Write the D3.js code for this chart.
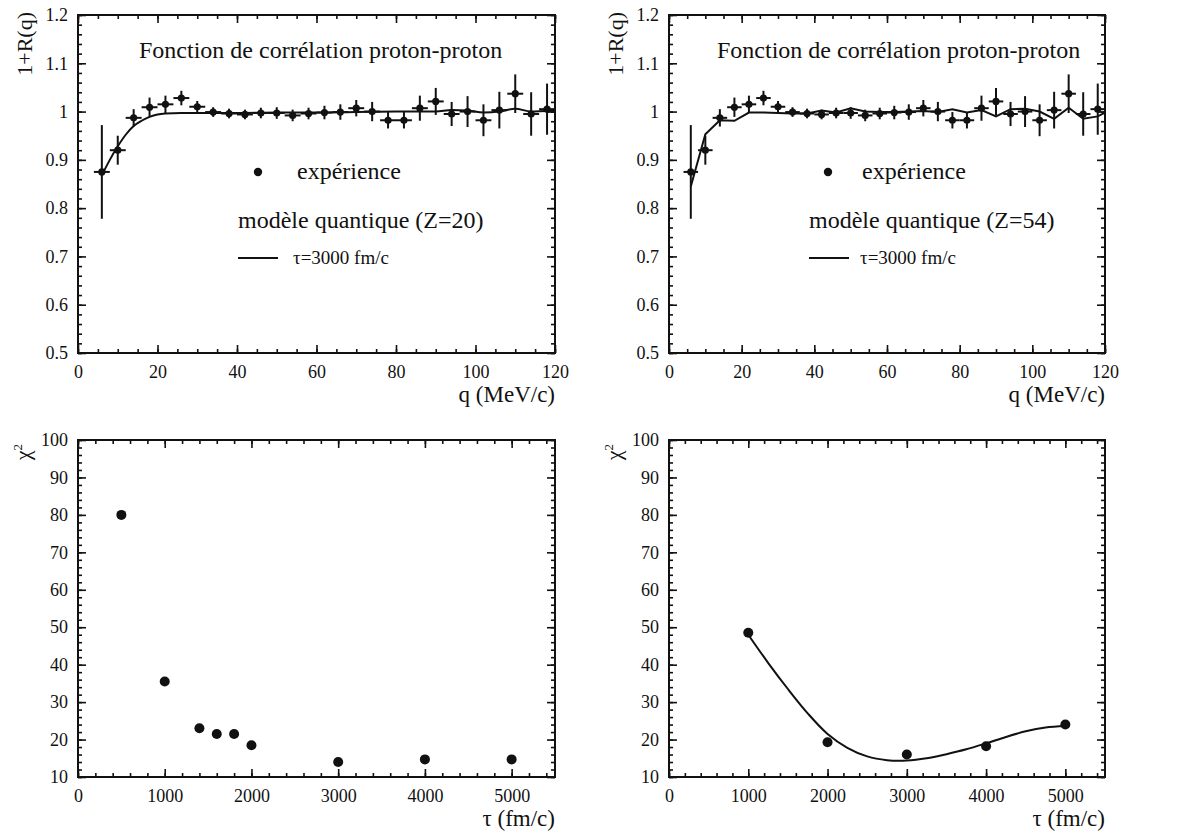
<!DOCTYPE html>
<html><head><meta charset="utf-8">
<script src="https://cdn.jsdelivr.net/npm/d3@7"></script>
<style>
body{margin:0;background:#fff}
svg{display:block}
text{font-family:"Liberation Serif","Times New Roman",serif;fill:#111}
</style>
</head><body>
<svg id="chart" width="1182" height="832"></svg>
<script>
// ---------- data ----------
const qValues   = [6,10,14,18,22,26,30,34,38,42,46,50,54,58,62,66,70,74,78,82,86,90,94,98,102,106,110,114,118];
const expValues = [0.875,0.92,0.987,1.009,1.015,1.028,1.010,0.999,0.996,0.994,0.997,0.997,0.992,0.996,0.998,0.999,1.007,1.0,0.982,0.982,1.007,1.021,0.995,1.0,0.982,1.003,1.037,0.995,1.005];
const expErrors = [0.097,0.03,0.018,0.02,0.018,0.015,0.012,0.01,0.01,0.01,0.011,0.012,0.012,0.012,0.014,0.016,0.017,0.02,0.017,0.017,0.026,0.028,0.025,0.032,0.033,0.038,0.04,0.045,0.053];
const qBinHalfWidth = 2;

const modelZ20Q      = [6,8,10,12,14,16,18,20,22,26,30,40,50,60,70,80,90,94,98,102,106,110,114,118,120];
const modelZ20Values = [0.868,0.9,0.928,0.952,0.970,0.981,0.989,0.994,0.996,0.997,0.997,0.997,0.998,0.998,0.999,1.0,1.0,1.003,1.002,0.998,1.0,1.006,1.0,1.001,1.001];

const modelZ54Q      = [6,10,14,18,22,26,30,34,38,42,46,50,54,58,62,66,70,74,78,82,86,90,94,98,102,106,110,114,118,120];
const modelZ54Values = [0.845,0.953,0.982,0.981,0.998,0.998,0.997,0.996,0.996,1.002,0.998,1.007,1.0,0.999,0.999,1.0,1.001,0.999,1.005,0.998,1.003,0.99,1.005,1.006,1.0,0.985,1.008,0.985,0.99,0.998];

const tauLeft  = [500,1000,1400,1600,1800,2000,3000,4000,5000];
const chi2Left = [80,35.5,23,21.5,21.5,18.5,14,14.7,14.7];

const tauRight  = [1000,2000,3000,4000,5000];
const chi2Right = [48.5,19.3,16,18.2,24];

const fitTau  = [1000,1250,1500,1750,2000,2250,2500,2750,3000,3250,3500,3750,4000,4250,4500,4750,5000];
const fitChi2 = [48,40.5,33.5,27,21.5,17.8,15.5,14.5,14.4,15,16.1,17.4,19,20.7,22.2,23.2,23.6];

const qTicks      = [0,20,40,60,80,100,120];
const qMinorTicks = d3.range(0,121,5);
const rTicks      = [0.5,0.6,0.7,0.8,0.9,1,1.1,1.2];
const rMinorTicks = d3.range(0.5,1.2001,0.02);
const tauTicks      = [0,1000,2000,3000,4000,5000];
const tauMinorTicks = d3.range(0,5501,200);
const chiTicks      = [10,20,30,40,50,60,70,80,90,100];
const chiMinorTicks = d3.range(10,100.001,2);

const titleText = "Fonction de corrélation proton-proton";

// ---------- drawing ----------
const svg = d3.select("#chart");
const INK = "#111";

function frame(g, x, y, xt, xm, yt, ym, yfmt){
  const [xa,xb] = x.range(), [ya,yb] = y.range();
  const styleAxis = sel => {
    sel.select(".domain").remove();
    sel.selectAll("line").attr("stroke",INK).attr("stroke-width",1.6);
    sel.selectAll("text").style("font-size","18px").attr("fill",INK);
  };
  g.append("g").attr("transform",`translate(0,${ya})`)
    .call(d3.axisBottom(x).tickValues(xt).tickSize(-8).tickSizeOuter(0).tickPadding(12).tickFormat(d3.format("d"))).call(styleAxis);
  g.append("g").attr("transform",`translate(0,${yb})`)
    .call(d3.axisTop(x).tickValues(xt).tickSize(-8).tickSizeOuter(0).tickFormat("")).call(styleAxis);
  g.append("g").attr("transform",`translate(${xa},0)`)
    .call(d3.axisLeft(y).tickValues(yt).tickSize(-8).tickSizeOuter(0).tickPadding(10).tickFormat(yfmt)).call(styleAxis);
  g.append("g").attr("transform",`translate(${xb},0)`)
    .call(d3.axisRight(y).tickValues(yt).tickSize(-8).tickSizeOuter(0).tickFormat("")).call(styleAxis);
  g.append("g").attr("transform",`translate(0,${ya})`)
    .call(d3.axisBottom(x).tickValues(xm).tickSize(-4).tickSizeOuter(0).tickFormat("")).call(styleAxis);
  g.append("g").attr("transform",`translate(0,${yb})`)
    .call(d3.axisTop(x).tickValues(xm).tickSize(-4).tickSizeOuter(0).tickFormat("")).call(styleAxis);
  g.append("g").attr("transform",`translate(${xa},0)`)
    .call(d3.axisLeft(y).tickValues(ym).tickSize(-4).tickSizeOuter(0).tickFormat("")).call(styleAxis);
  g.append("g").attr("transform",`translate(${xb},0)`)
    .call(d3.axisRight(y).tickValues(ym).tickSize(-4).tickSizeOuter(0).tickFormat("")).call(styleAxis);
  g.append("rect").attr("x",xa).attr("y",yb).attr("width",xb-xa).attr("height",ya-yb)
    .attr("fill","none").attr("stroke",INK).attr("stroke-width",2);
}

function corrPanel(left, right, modelQ, modelV, curve, zLabel, legendX){
  const g = svg.append("g");
  const x = d3.scaleLinear().domain([0,120]).range([left,right]);
  const y = d3.scaleLinear().domain([0.5,1.2]).range([353,15]);
  frame(g, x, y, qTicks, qMinorTicks, rTicks, rMinorTicks, d3.format("~g"));

  g.append("path").datum(modelQ.map((q,i)=>[q,modelV[i]]))
    .attr("d", d3.line().x(d=>x(d[0])).y(d=>y(d[1])).curve(curve))
    .attr("fill","none").attr("stroke",INK).attr("stroke-width",2);

  const pts = qValues.map((q,i)=>({q, v:expValues[i], e:expErrors[i]}));
  const pg = g.append("g");
  pg.selectAll("line.v").data(pts).join("line").attr("class","v")
    .attr("x1",d=>x(d.q)).attr("x2",d=>x(d.q))
    .attr("y1",d=>y(d.v-d.e)).attr("y2",d=>y(d.v+d.e))
    .attr("stroke",INK).attr("stroke-width",2);
  pg.selectAll("line.h").data(pts).join("line").attr("class","h")
    .attr("x1",d=>x(d.q-qBinHalfWidth)).attr("x2",d=>x(d.q+qBinHalfWidth))
    .attr("y1",d=>y(d.v)).attr("y2",d=>y(d.v))
    .attr("stroke",INK).attr("stroke-width",2);
  pg.selectAll("circle").data(pts).join("circle")
    .attr("cx",d=>x(d.q)).attr("cy",d=>y(d.v)).attr("r",3.6).attr("fill",INK);

  g.append("text").attr("x",legendX.title).attr("y",50).attr("dy","0.35em")
    .style("font-size","24px").text(titleText);
  g.append("circle").attr("cx",legendX.dot).attr("cy",172).attr("r",4.2).attr("fill",INK);
  g.append("text").attr("x",legendX.exp).attr("y",172).attr("dy","0.3em")
    .style("font-size","24px").text("expérience");
  g.append("text").attr("x",legendX.model).attr("y",221).attr("dy","0.3em")
    .style("font-size","24px").text(`modèle quantique (${zLabel})`);
  g.append("line").attr("x1",legendX.model).attr("x2",legendX.model+40)
    .attr("y1",258).attr("y2",258).attr("stroke",INK).attr("stroke-width",2);
  g.append("text").attr("x",legendX.tau).attr("y",258).attr("dy","0.33em")
    .style("font-size","19px").text("τ=3000 fm/c");

  g.append("text").attr("transform",`translate(${left-54},12) rotate(-90)`)
    .attr("text-anchor","end").attr("dy","0.35em").style("font-size","22px").text("1+R(q)");
  g.append("text").attr("x",right).attr("y",394).attr("dy","0.35em").attr("text-anchor","end")
    .style("font-size","23px").text("q (MeV/c)");
}

function chiPanel(left, right, taus, chis, fit){
  const g = svg.append("g");
  const x = d3.scaleLinear().domain([0,5500]).range([left,right]);
  const y = d3.scaleLinear().domain([10,100]).range([777,440]);
  frame(g, x, y, tauTicks, tauMinorTicks, chiTicks, chiMinorTicks, d3.format("d"));
  if (fit){
    g.append("path").datum(fit.t.map((t,i)=>[t,fit.c[i]]))
      .attr("d", d3.line().x(d=>x(d[0])).y(d=>y(d[1])).curve(d3.curveCatmullRom))
      .attr("fill","none").attr("stroke",INK).attr("stroke-width",2);
  }
  g.selectAll("circle.p").data(taus.map((t,i)=>[t,chis[i]])).join("circle").attr("class","p")
    .attr("cx",d=>x(d[0])).attr("cy",d=>y(d[1])).attr("r",5).attr("fill",INK);
  const lab = g.append("text").attr("transform",`translate(${left-56},452) rotate(-90)`)
    .attr("text-anchor","middle").attr("dy","0.35em").style("font-size","22px");
  lab.append("tspan").text("χ");
  lab.append("tspan").attr("dy","-0.6em").style("font-size","13px").text("2");
  g.append("text").attr("x",right).attr("y",818).attr("dy","0.35em").attr("text-anchor","end")
    .style("font-size","23px").text("τ (fm/c)");
}

corrPanel(78, 555, modelZ20Q, modelZ20Values, d3.curveMonotoneX, "Z=20",
  {title:139, dot:258, exp:297, model:238, tau:293});
corrPanel(669, 1105, modelZ54Q, modelZ54Values, d3.curveLinear, "Z=54",
  {title:717, dot:828, exp:862, model:809, tau:860});
chiPanel(78, 555, tauLeft, chi2Left, null);
chiPanel(669, 1105, tauRight, chi2Right, {t:fitTau, c:fitChi2});
</script>
</body></html>
